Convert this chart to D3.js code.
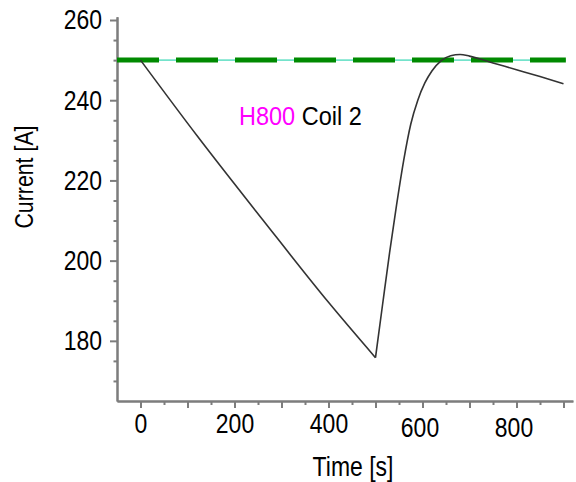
<!DOCTYPE html>
<html>
<head>
<meta charset="utf-8">
<script src="https://cdn.jsdelivr.net/npm/d3@7"></script>
<style>
  html, body { margin: 0; padding: 0; background: #fff; }
  svg { display: block; }
  svg text { font-family: "Liberation Sans", Arial, sans-serif; }
  .cond-mid { transform: scaleX(0.82); transform-box: fill-box; transform-origin: center; }
  .cond-end { transform: scaleX(0.82); transform-box: fill-box; transform-origin: right center; }
  .cond-start { transform: scaleX(0.94); transform-box: fill-box; transform-origin: left center; }
</style>
</head>
<body>
<svg id="chart" width="576" height="482"></svg>
<script>
// Coil current during the ramp-down / recovery cycle
const timeS = [0, 120, 260, 400, 500, 515, 530, 545, 560, 575, 590, 605, 620, 640, 660, 680, 700, 750, 800, 850, 900];
const currentA = [250, 231.2, 210.2, 189.6, 175.8, 189, 202, 214, 225, 234, 240, 244.3, 247.3, 249.9, 251.1, 251.4, 251.0, 249.3, 247.6, 245.9, 244.1];
const minIndex = 4; // sharp turning point of the cycle

// Nominal current reference line
const refTime = [-50, 905];
const refCurrent = 250;

// Axis ticks
const xMajorTicks = [0, 100, 200, 300, 400, 500, 600, 700, 800, 900];
const xMinorTicks = [50, 150, 250, 350, 450, 550, 650, 750, 850];
const xLabelTicks = [0, 200, 400, 600, 800];
const yMajorTicks = [180, 200, 220, 240, 260];
const yMinorTicks = [170, 175, 185, 190, 195, 205, 210, 215, 225, 230, 235, 245, 250, 255];

const labelSeries = "H800";
const labelCoil = "Coil 2";
const xTitle = "Time [s]";
const yTitle = "Current [A]";

const svg = d3.select("#chart");
svg.append("rect").attr("width", 576).attr("height", 482).attr("fill", "#fff");

const x = d3.scaleLinear().domain([-50, 920]).range([117, 572.9]);
const y = d3.scaleLinear().domain([165, 260.8]).range([401, 16.8]);

const axisColor = "#7d7d7d";
const tickFont = 28;

function styleAxis(g, cls) {
  g.selectAll("path.domain").attr("stroke", axisColor).attr("stroke-width", 2);
  g.selectAll(".tick line").attr("stroke", axisColor).attr("stroke-width", 2);
  g.selectAll(".tick text").attr("fill", "#000").attr("class", cls).attr("font-size", tickFont);
}

// y axis: minor then major ticks
svg.append("g").attr("transform", "translate(117,0)")
  .call(d3.axisLeft(y).tickValues(yMinorTicks).tickSize(3.5).tickSizeOuter(0).tickFormat(""))
  .call(styleAxis, "cond-end");
svg.append("g").attr("transform", "translate(117,0)")
  .call(d3.axisLeft(y).tickValues(yMajorTicks).tickSize(7).tickSizeOuter(0).tickPadding(8).tickFormat(d3.format("d")))
  .call(styleAxis, "cond-end");

// x axis: minor, major and labelled ticks
svg.append("g").attr("transform", "translate(0,401)")
  .call(d3.axisBottom(x).tickValues(xMinorTicks).tickSize(4).tickSizeOuter(0).tickFormat(""))
  .call(styleAxis, "cond-mid");
svg.append("g").attr("transform", "translate(0,401)")
  .call(d3.axisBottom(x).tickValues(xMajorTicks).tickSize(7).tickSizeOuter(0).tickPadding(5)
    .tickFormat(d => xLabelTicks.includes(d) ? d3.format("d")(d) : ""))
  .call(styleAxis, "cond-mid")
  .call(g => g.selectAll(".tick text")
    .attr("dx", d => d >= 600 ? -3 : 0)
    .attr("dy", d => d >= 600 ? "0.86em" : "0.71em"));

// Reference level: thin cyan line under a thick green dashed line
svg.append("line")
  .attr("x1", x(refTime[0])).attr("x2", x(refTime[1]))
  .attr("y1", y(refCurrent)).attr("y2", y(refCurrent))
  .attr("stroke", "#74e3cb").attr("stroke-width", 1.6);
svg.append("line")
  .attr("x1", x(refTime[0])).attr("x2", x(refTime[1]))
  .attr("y1", y(refCurrent)).attr("y2", y(refCurrent))
  .attr("stroke", "#008a00").attr("stroke-width", 5)
  .attr("stroke-dasharray", "42,17");

// Current trace, drawn as two pieces so the turning point stays sharp
const pts = timeS.map((t, i) => [t, currentA[i]]);
const line = d3.line().x(d => x(d[0])).y(d => y(d[1])).curve(d3.curveMonotoneX);
[pts.slice(0, minIndex + 1), pts.slice(minIndex)].forEach(seg => {
  svg.append("path").datum(seg)
    .attr("d", line)
    .attr("fill", "none")
    .attr("stroke", "#333")
    .attr("stroke-width", 1.6)
    .attr("stroke-linejoin", "round");
});

// In-plot label
const lbl = svg.append("text").attr("class", "cond-start")
  .attr("x", 239).attr("y", 125).attr("font-size", 25);
lbl.append("tspan").attr("fill", "#ff00ff").text(labelSeries);
lbl.append("tspan").attr("fill", "#000").text(" " + labelCoil);

// Axis titles
svg.append("text").attr("class", "cond-mid")
  .attr("x", 353).attr("y", 476).attr("text-anchor", "middle")
  .attr("font-size", 28).attr("fill", "#000").text(xTitle);
svg.append("g").attr("transform", "translate(33,177) rotate(-90)")
  .append("text").attr("class", "cond-mid")
  .attr("text-anchor", "middle")
  .attr("font-size", 26).attr("fill", "#000").text(yTitle);
</script>
</body>
</html>
